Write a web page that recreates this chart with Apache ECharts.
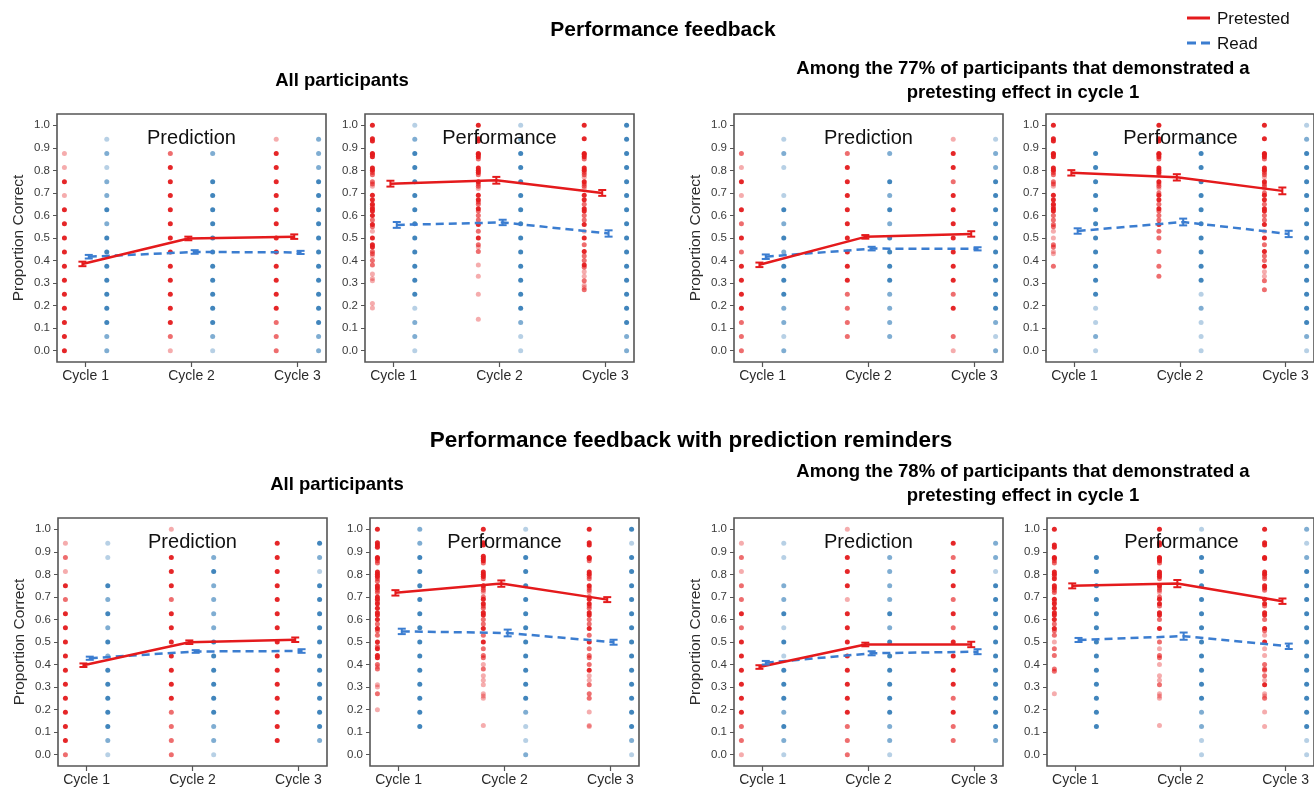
<!DOCTYPE html>
<html>
<head>
<meta charset="utf-8">
<script src="https://cdn.jsdelivr.net/npm/echarts@6/dist/echarts.min.js"></script>
<style>
  html, body { margin: 0; padding: 0; background: #ffffff; }
  #chart { width: 1314px; height: 788px; }
</style>
</head>
<body>
<div id="chart"></div>
<script>
// ---- Axis labels ----
const cycles = ['Cycle 1', 'Cycle 2', 'Cycle 3'];
const yTicks = [0, 0.1, 0.2, 0.3, 0.4, 0.5, 0.6, 0.7, 0.8, 0.9, 1.0];
const groupNames = ['Pretested', 'Read'];

// ---- Individual scores: per cycle, [proportion, overlap level 1..3] ----
// Performance feedback, all participants, predictions
const fbAllPredPre = [
  [[.875,1],[.813,1],[.75,3],[.688,1],[.625,3],[.563,3],[.5,3],[.438,3],[.375,3],[.313,3],[.25,3],[.188,3],[.125,3],[.063,3],[0,3]],
  [[.875,2],[.813,3],[.75,3],[.688,3],[.625,3],[.563,3],[.5,3],[.438,3],[.375,3],[.313,3],[.25,3],[.188,3],[.125,3],[.063,2],[0,1]],
  [[.938,1],[.875,3],[.813,3],[.75,3],[.688,3],[.625,3],[.563,3],[.5,3],[.438,3],[.375,3],[.313,3],[.25,3],[.188,3],[.125,2],[.063,2],[0,2]]
];
const fbAllPredRead = [
  [[.938,1],[.875,2],[.813,1],[.75,2],[.688,2],[.625,3],[.563,2],[.5,3],[.438,3],[.375,3],[.313,3],[.25,3],[.188,3],[.125,3],[.063,2],[0,2]],
  [[.875,2],[.75,3],[.688,3],[.625,3],[.563,3],[.5,3],[.438,3],[.375,3],[.313,3],[.25,3],[.188,3],[.125,3],[.063,2],[0,1]],
  [[.938,2],[.875,2],[.813,2],[.75,3],[.688,3],[.625,3],[.563,3],[.5,3],[.438,3],[.375,3],[.313,3],[.25,3],[.188,3],[.125,3],[.063,2],[0,2]]
];
// Performance feedback, all participants, test performance
const fbAllPerfPre = [
  [[1,3],[.94,3],[.93,3],[.875,3],[.87,3],[.86,3],[.81,3],[.8,3],[.79,2],[.78,2],[.75,2],[.74,2],[.73,1],[.69,3],[.67,3],[.65,3],[.64,2],[.63,3],[.62,3],[.6,3],[.58,2],[.56,3],[.55,2],[.53,1],[.5,3],[.47,3],[.46,3],[.44,2],[.43,2],[.42,1],[.4,2],[.38,2],[.34,1],[.32,1],[.31,1],[.21,1],[.19,1]],
  [[1,3],[.94,3],[.93,3],[.875,3],[.87,3],[.86,3],[.85,2],[.81,3],[.8,3],[.79,3],[.78,2],[.75,3],[.74,2],[.73,2],[.72,1],[.69,3],[.67,3],[.66,2],[.65,2],[.63,3],[.62,2],[.6,2],[.58,2],[.56,3],[.53,2],[.5,3],[.47,2],[.46,1],[.44,2],[.38,1],[.33,1],[.25,1],[.14,1]],
  [[1,3],[.94,3],[.875,3],[.87,3],[.86,3],[.85,2],[.81,3],[.8,3],[.79,2],[.78,2],[.77,1],[.75,3],[.74,2],[.73,2],[.72,1],[.69,3],[.67,3],[.65,2],[.63,3],[.62,3],[.6,2],[.58,2],[.56,3],[.53,1],[.5,3],[.47,2],[.44,3],[.42,2],[.4,2],[.38,3],[.37,2],[.35,1],[.33,1],[.31,2],[.29,1],[.28,1],[.27,2]]
];
const fbAllPerfRead = [
  [[1,1],[.938,2],[.875,3],[.813,3],[.75,3],[.688,3],[.625,3],[.563,3],[.5,3],[.438,3],[.375,3],[.313,3],[.25,3],[.188,1],[.125,2],[.063,2],[0,1]],
  [[1,1],[.938,2],[.875,3],[.813,3],[.75,3],[.688,3],[.625,3],[.563,3],[.5,3],[.438,3],[.375,3],[.313,3],[.25,3],[.188,3],[.125,2],[.063,1],[0,1]],
  [[1,3],[.938,3],[.875,3],[.813,3],[.75,3],[.688,3],[.625,3],[.563,3],[.5,3],[.438,3],[.375,3],[.313,3],[.25,3],[.188,3],[.125,3],[.063,2],[0,2]]
];
// Performance feedback, 77% subgroup, predictions
const fbSubPredPre = [
  [[.875,2],[.813,1],[.75,3],[.688,1],[.625,3],[.563,2],[.5,3],[.438,2],[.375,3],[.313,3],[.25,3],[.188,3],[.125,2],[.063,2],[0,2]],
  [[.875,2],[.813,3],[.75,3],[.688,3],[.625,3],[.563,3],[.5,3],[.438,3],[.375,3],[.313,3],[.25,2],[.188,2],[.125,2],[.063,2]],
  [[.938,1],[.875,3],[.813,3],[.75,2],[.688,3],[.625,3],[.563,3],[.5,3],[.438,3],[.375,3],[.313,3],[.25,2],[.188,3],[.063,2],[0,1]]
];
const fbSubPredRead = [
  [[.938,1],[.875,2],[.813,1],[.688,1],[.625,3],[.563,2],[.5,3],[.438,2],[.375,3],[.313,3],[.25,3],[.188,2],[.125,2],[.063,1],[0,2]],
  [[.875,2],[.75,3],[.688,2],[.625,3],[.563,2],[.5,3],[.438,3],[.375,3],[.313,3],[.25,2],[.188,2],[.125,2],[.063,2]],
  [[.938,1],[.875,2],[.813,2],[.75,3],[.688,3],[.625,3],[.563,3],[.5,3],[.438,3],[.375,3],[.313,3],[.25,3],[.188,3],[.125,2],[.063,1],[0,2]]
];
// Performance feedback, 77% subgroup, test performance
const fbSubPerfPre = [
  [[1,3],[.94,3],[.93,3],[.875,3],[.87,3],[.86,3],[.81,3],[.8,3],[.79,2],[.78,2],[.75,2],[.74,2],[.73,1],[.69,3],[.67,3],[.65,3],[.64,2],[.63,3],[.62,3],[.6,2],[.58,2],[.56,2],[.55,2],[.53,1],[.5,1],[.47,2],[.46,2],[.44,1],[.43,1],[.375,2]],
  [[1,3],[.94,3],[.93,3],[.875,3],[.87,3],[.86,3],[.85,2],[.81,3],[.8,3],[.79,3],[.78,2],[.75,3],[.74,2],[.73,2],[.72,1],[.7,2],[.69,3],[.67,3],[.65,2],[.63,3],[.62,2],[.6,2],[.58,2],[.56,3],[.53,2],[.5,2],[.44,2],[.375,2],[.33,2]],
  [[1,3],[.94,3],[.875,3],[.87,3],[.86,3],[.85,2],[.81,3],[.8,3],[.79,2],[.78,2],[.77,1],[.75,3],[.74,2],[.73,2],[.72,1],[.7,2],[.69,3],[.67,3],[.65,2],[.63,3],[.62,3],[.6,2],[.58,2],[.56,3],[.53,1],[.5,3],[.47,2],[.44,3],[.42,2],[.4,2],[.375,3],[.35,1],[.33,1],[.31,2],[.27,2]]
];
const fbSubPerfRead = [
  [[.875,3],[.813,3],[.75,3],[.688,3],[.625,3],[.563,3],[.5,3],[.438,3],[.375,3],[.313,3],[.25,3],[.188,1],[.125,1],[.063,2],[0,1]],
  [[.938,2],[.875,3],[.813,3],[.75,3],[.688,3],[.625,3],[.563,3],[.5,3],[.438,3],[.375,3],[.313,3],[.25,1],[.188,2],[.125,1],[.063,1],[0,1]],
  [[1,1],[.938,2],[.875,3],[.813,3],[.75,3],[.688,3],[.625,3],[.563,3],[.5,3],[.438,3],[.375,3],[.313,3],[.25,3],[.188,3],[.125,3],[.063,2],[0,1]]
];
// Feedback with reminders, all participants, predictions
const remAllPredPre = [
  [[.938,1],[.875,2],[.813,1],[.75,3],[.688,2],[.625,3],[.563,3],[.5,3],[.438,3],[.375,3],[.313,3],[.25,3],[.188,3],[.125,3],[.063,3],[0,2]],
  [[1,1],[.875,3],[.813,3],[.75,3],[.688,2],[.625,3],[.563,3],[.5,3],[.438,3],[.375,3],[.313,3],[.25,3],[.188,2],[.125,2],[.063,2],[0,2]],
  [[.938,3],[.875,3],[.813,3],[.75,3],[.688,3],[.625,3],[.563,3],[.5,3],[.438,3],[.375,3],[.313,3],[.25,3],[.188,3],[.125,3],[.063,3]]
];
const remAllPredRead = [
  [[.938,1],[.875,1],[.75,3],[.688,2],[.625,3],[.563,2],[.5,3],[.438,2],[.375,3],[.313,3],[.25,3],[.188,3],[.125,3],[.063,2],[0,1]],
  [[.875,2],[.813,3],[.75,2],[.688,2],[.625,2],[.563,2],[.5,3],[.438,3],[.375,3],[.313,3],[.25,3],[.188,3],[.125,2],[.063,2],[0,1]],
  [[.938,3],[.875,2],[.813,1],[.75,3],[.688,3],[.625,3],[.563,3],[.5,3],[.438,3],[.375,3],[.313,3],[.25,3],[.188,3],[.125,3],[.063,2]]
];
// Feedback with reminders, all participants, test performance
const remAllPerfPre = [
  [[1,3],[.94,3],[.93,3],[.92,3],[.875,3],[.87,3],[.86,2],[.85,2],[.81,3],[.8,3],[.79,3],[.78,2],[.77,2],[.75,3],[.74,3],[.73,2],[.72,2],[.7,3],[.69,3],[.68,2],[.67,3],[.65,3],[.63,3],[.62,3],[.6,3],[.58,2],[.56,3],[.55,2],[.53,2],[.5,3],[.48,2],[.47,3],[.44,3],[.43,3],[.4,2],[.39,1],[.38,2],[.31,1],[.3,1],[.27,2],[.2,1]],
  [[1,3],[.94,3],[.93,3],[.88,3],[.87,3],[.86,3],[.85,2],[.81,3],[.8,3],[.79,3],[.78,2],[.75,3],[.74,2],[.73,2],[.72,1],[.7,2],[.69,3],[.67,3],[.66,2],[.65,2],[.63,3],[.62,3],[.6,2],[.58,2],[.56,3],[.53,2],[.5,3],[.47,2],[.44,2],[.43,2],[.4,1],[.38,2],[.35,1],[.33,1],[.31,1],[.27,1],[.26,1],[.25,1],[.13,1]],
  [[1,3],[.94,3],[.93,3],[.875,3],[.87,3],[.86,2],[.81,3],[.8,3],[.79,2],[.78,2],[.75,3],[.74,2],[.73,2],[.72,1],[.7,2],[.69,3],[.67,3],[.66,2],[.65,2],[.63,3],[.62,3],[.6,2],[.58,2],[.56,3],[.53,2],[.5,3],[.47,2],[.44,2],[.43,2],[.4,2],[.375,3],[.35,1],[.33,1],[.31,2],[.27,2],[.25,2],[.19,1],[.13,1],[.125,1]]
];
const remAllPerfRead = [
  [[1,2],[.938,2],[.875,3],[.813,3],[.75,3],[.688,3],[.625,3],[.563,3],[.5,3],[.438,3],[.375,3],[.313,3],[.25,3],[.188,3],[.125,3]],
  [[1,1],[.875,3],[.813,3],[.75,3],[.688,3],[.625,3],[.563,3],[.5,3],[.438,3],[.375,3],[.313,3],[.25,3],[.188,2],[.125,1],[.063,1],[0,2]],
  [[1,3],[.938,1],[.875,3],[.813,3],[.75,3],[.688,3],[.625,3],[.563,3],[.5,3],[.438,3],[.375,3],[.313,3],[.25,3],[.188,3],[.125,3],[.063,2],[0,1]]
];
// Feedback with reminders, 78% subgroup, predictions
const remSubPredPre = [
  [[.938,1],[.875,2],[.813,1],[.75,2],[.688,2],[.625,3],[.563,2],[.5,3],[.438,3],[.375,3],[.313,3],[.25,3],[.188,3],[.125,2],[.063,2],[0,1]],
  [[1,1],[.875,3],[.813,3],[.75,3],[.688,1],[.625,3],[.563,3],[.5,3],[.438,3],[.375,3],[.313,3],[.25,3],[.188,3],[.125,2],[.063,2],[0,2]],
  [[.938,3],[.875,2],[.813,3],[.75,3],[.688,2],[.625,3],[.563,2],[.5,3],[.438,3],[.375,3],[.313,3],[.25,2],[.188,3],[.125,2],[.063,2]]
];
const remSubPredRead = [
  [[.938,1],[.875,1],[.75,2],[.688,2],[.625,3],[.563,1],[.5,3],[.438,1],[.375,3],[.313,3],[.25,3],[.188,2],[.125,3],[.063,2],[0,1]],
  [[.875,2],[.813,2],[.75,2],[.688,2],[.625,3],[.563,2],[.5,3],[.438,3],[.375,3],[.313,3],[.25,3],[.188,3],[.125,2],[.063,2],[0,1]],
  [[.938,2],[.875,2],[.813,1],[.75,3],[.688,3],[.625,3],[.563,3],[.5,3],[.438,3],[.375,3],[.313,3],[.25,3],[.188,3],[.125,3],[.063,2]]
];
// Feedback with reminders, 78% subgroup, test performance
const remSubPerfPre = [
  [[1,3],[.93,3],[.92,3],[.875,3],[.87,3],[.86,2],[.85,2],[.81,3],[.8,3],[.79,2],[.78,3],[.75,3],[.74,3],[.73,2],[.72,2],[.69,3],[.68,2],[.67,3],[.65,3],[.63,3],[.62,3],[.6,3],[.58,2],[.56,3],[.55,2],[.53,2],[.5,1],[.47,2],[.44,2],[.38,2],[.37,2],[.27,1]],
  [[1,3],[.94,3],[.93,3],[.875,3],[.87,3],[.86,3],[.85,2],[.81,3],[.8,3],[.79,3],[.78,2],[.75,3],[.74,2],[.73,2],[.72,1],[.7,2],[.69,3],[.67,3],[.66,2],[.63,3],[.62,3],[.6,2],[.56,3],[.5,2],[.47,1],[.44,2],[.43,2],[.4,1],[.35,1],[.33,1],[.31,2],[.27,1],[.26,1],[.25,1],[.13,1]],
  [[1,3],[.94,3],[.93,3],[.875,3],[.87,3],[.81,3],[.8,3],[.79,2],[.78,2],[.75,3],[.74,3],[.73,2],[.69,3],[.67,3],[.66,2],[.63,3],[.62,3],[.6,2],[.56,3],[.55,2],[.53,1],[.5,3],[.47,1],[.44,1],[.4,2],[.38,2],[.375,2],[.35,2],[.33,1],[.31,3],[.27,1],[.26,1],[.25,2],[.19,1],[.125,1]]
];
const remSubPerfRead = [
  [[.875,3],[.813,3],[.75,3],[.688,3],[.625,3],[.563,3],[.5,3],[.438,3],[.375,3],[.313,3],[.25,3],[.188,3],[.125,3]],
  [[1,1],[.875,3],[.813,3],[.75,3],[.688,3],[.625,3],[.563,3],[.5,3],[.438,3],[.375,3],[.313,3],[.25,3],[.188,2],[.125,2],[.063,1],[0,1]],
  [[1,2],[.938,1],[.875,2],[.813,3],[.75,3],[.688,3],[.625,3],[.563,3],[.5,3],[.438,3],[.375,3],[.313,3],[.25,3],[.188,3],[.125,3],[.063,1],[0,1]]
];

// ---- Condition means and standard errors (Cycle 1..3) ----
const fbAllPredMeanPre  = [0.385, 0.498, 0.506], fbAllPredSePre  = [0.010, 0.008, 0.010];
const fbAllPredMeanRead = [0.417, 0.438, 0.436], fbAllPredSeRead = [0.008, 0.008, 0.007];
const fbAllPerfMeanPre  = [0.741, 0.756, 0.700], fbAllPerfSePre  = [0.013, 0.015, 0.013];
const fbAllPerfMeanRead = [0.558, 0.569, 0.520], fbAllPerfSeRead = [0.013, 0.012, 0.014];
const fbSubPredMeanPre  = [0.381, 0.505, 0.518], fbSubPredSePre  = [0.010, 0.008, 0.012];
const fbSubPredMeanRead = [0.417, 0.453, 0.452], fbSubPredSeRead = [0.010, 0.008, 0.007];
const fbSubPerfMeanPre  = [0.789, 0.769, 0.709], fbSubPerfSePre  = [0.012, 0.014, 0.015];
const fbSubPerfMeanRead = [0.531, 0.571, 0.518], fbSubPerfSeRead = [0.012, 0.015, 0.014];
const remAllPredMeanPre  = [0.397, 0.499, 0.510], remAllPredSePre  = [0.008, 0.008, 0.010];
const remAllPredMeanRead = [0.428, 0.458, 0.460], remAllPredSeRead = [0.007, 0.006, 0.008];
const remAllPerfMeanPre  = [0.718, 0.759, 0.688], remAllPerfSePre  = [0.012, 0.014, 0.011];
const remAllPerfMeanRead = [0.547, 0.540, 0.499], remAllPerfSeRead = [0.012, 0.015, 0.011];
const remSubPredMeanPre  = [0.389, 0.489, 0.489], remSubPredSePre  = [0.008, 0.008, 0.012];
const remSubPredMeanRead = [0.408, 0.450, 0.457], remSubPredSeRead = [0.008, 0.009, 0.011];
const remSubPerfMeanPre  = [0.749, 0.759, 0.681], remSubPerfSePre  = [0.011, 0.016, 0.012];
const remSubPerfMeanRead = [0.509, 0.526, 0.481], remSubPerfSeRead = [0.009, 0.016, 0.012];

// ---- Styling ----
const FONT = '"Liberation Sans", Arial, Helvetica, sans-serif';
const RED = '#e41a1c';
const BLUE_DOT = '#377eb8';
const BLUE_LINE = '#3b7dd0';
const shade = [0, 0.36, 0.64, 0.95];   // dot opacity by overlap level
const DOT_OFFSET = 0.2;                 // strip dodge from the cycle position
const MEAN_OFFSET = 0.03;               // mean / error-bar dodge

// Panel layout: plot boxes and the data each one shows
const panels = [
  { box: { left: 57,   top: 114, width: 269, height: 248 }, title: 'Prediction',  yName: true,
    pre: fbAllPredPre, read: fbAllPredRead, mPre: fbAllPredMeanPre, sPre: fbAllPredSePre, mRead: fbAllPredMeanRead, sRead: fbAllPredSeRead },
  { box: { left: 365,  top: 114, width: 269, height: 248 }, title: 'Performance', yName: false,
    pre: fbAllPerfPre, read: fbAllPerfRead, mPre: fbAllPerfMeanPre, sPre: fbAllPerfSePre, mRead: fbAllPerfMeanRead, sRead: fbAllPerfSeRead },
  { box: { left: 734,  top: 114, width: 269, height: 248 }, title: 'Prediction',  yName: true,
    pre: fbSubPredPre, read: fbSubPredRead, mPre: fbSubPredMeanPre, sPre: fbSubPredSePre, mRead: fbSubPredMeanRead, sRead: fbSubPredSeRead },
  { box: { left: 1046, top: 114, width: 269, height: 248 }, title: 'Performance', yName: false,
    pre: fbSubPerfPre, read: fbSubPerfRead, mPre: fbSubPerfMeanPre, sPre: fbSubPerfSePre, mRead: fbSubPerfMeanRead, sRead: fbSubPerfSeRead },
  { box: { left: 58,   top: 518, width: 269, height: 248 }, title: 'Prediction',  yName: true,
    pre: remAllPredPre, read: remAllPredRead, mPre: remAllPredMeanPre, sPre: remAllPredSePre, mRead: remAllPredMeanRead, sRead: remAllPredSeRead },
  { box: { left: 370,  top: 518, width: 269, height: 248 }, title: 'Performance', yName: false,
    pre: remAllPerfPre, read: remAllPerfRead, mPre: remAllPerfMeanPre, sPre: remAllPerfSePre, mRead: remAllPerfMeanRead, sRead: remAllPerfSeRead },
  { box: { left: 734,  top: 518, width: 269, height: 248 }, title: 'Prediction',  yName: true,
    pre: remSubPredPre, read: remSubPredRead, mPre: remSubPredMeanPre, sPre: remSubPredSePre, mRead: remSubPredMeanRead, sRead: remSubPredSeRead },
  { box: { left: 1047, top: 518, width: 269, height: 248 }, title: 'Performance', yName: false,
    pre: remSubPerfPre, read: remSubPerfRead, mPre: remSubPerfMeanPre, sPre: remSubPerfSePre, mRead: remSubPerfMeanRead, sRead: remSubPerfSeRead }
];

function stripData(strips, offset) {
  const out = [];
  strips.forEach((strip, ci) => {
    strip.forEach(([v, lvl]) => {
      out.push({ value: [ci + offset, v], itemStyle: { opacity: shade[lvl] } });
    });
  });
  return out;
}

function errorBars(color) {
  return function (params, api) {
    const x = api.value(0);
    const lo = api.coord([x, api.value(1)]);
    const hi = api.coord([x, api.value(2)]);
    const w = 4;
    const style = { stroke: color, lineWidth: 2 };
    return {
      type: 'group',
      children: [
        { type: 'line', shape: { x1: lo[0], y1: lo[1], x2: hi[0], y2: hi[1] }, style },
        { type: 'line', shape: { x1: lo[0] - w, y1: lo[1], x2: lo[0] + w, y2: lo[1] }, style },
        { type: 'line', shape: { x1: hi[0] - w, y1: hi[1], x2: hi[0] + w, y2: hi[1] }, style }
      ]
    };
  };
}

const grids = [], xAxes = [], yAxes = [], series = [], graphics = [];

panels.forEach((p, i) => {
  grids.push(Object.assign({ show: true, borderColor: '#555555', borderWidth: 1.6, backgroundColor: 'transparent' }, p.box));

  xAxes.push({
    type: 'value', gridIndex: i, min: -0.27, max: 2.27, position: 'bottom',
    axisLine: { show: false, onZero: false }, splitLine: { show: false },
    axisTick: { show: true, customValues: [0, 1, 2], length: 5, lineStyle: { color: '#555555', width: 1.2 } },
    axisLabel: { customValues: [0, 1, 2], formatter: v => cycles[Math.round(v)], fontFamily: FONT, fontSize: 14, color: '#2b2b2b', margin: 7 }
  });

  yAxes.push({
    type: 'value', gridIndex: i, min: -0.05, max: 1.05, position: 'left',
    name: p.yName ? 'Proportion Correct' : '',
    nameLocation: 'middle', nameGap: 30,
    nameTextStyle: { fontFamily: FONT, fontSize: 15.5, color: '#2b2b2b' },
    axisLine: { show: false, onZero: false }, splitLine: { show: false },
    axisTick: { show: true, customValues: yTicks, length: 4, lineStyle: { color: '#555555', width: 1 } },
    axisLabel: { customValues: yTicks, formatter: v => v.toFixed(1), fontFamily: FONT, fontSize: 11.5, color: '#3a3a3a', margin: 7 }
  });

  series.push({
    type: 'scatter', name: 'Pretested scores', xAxisIndex: i, yAxisIndex: i, symbolSize: 5, silent: true, z: 2,
    itemStyle: { color: RED }, data: stripData(p.pre, -DOT_OFFSET)
  });
  series.push({
    type: 'scatter', name: 'Read scores', xAxisIndex: i, yAxisIndex: i, symbolSize: 5, silent: true, z: 2,
    itemStyle: { color: BLUE_DOT }, data: stripData(p.read, DOT_OFFSET)
  });
  series.push({
    type: 'line', name: groupNames[0], xAxisIndex: i, yAxisIndex: i, symbol: 'none', z: 5, silent: true,
    lineStyle: { color: RED, width: 2.5 }, itemStyle: { color: RED },
    data: p.mPre.map((m, k) => [k - MEAN_OFFSET, m])
  });
  series.push({
    type: 'line', name: groupNames[1], xAxisIndex: i, yAxisIndex: i, symbol: 'none', z: 4, silent: true,
    lineStyle: { color: BLUE_LINE, width: 2.5, type: [8, 5] }, itemStyle: { color: BLUE_LINE },
    data: p.mRead.map((m, k) => [k + MEAN_OFFSET, m])
  });
  series.push({
    type: 'custom', name: 'Pretested SE', coordinateSystem: 'cartesian2d', xAxisIndex: i, yAxisIndex: i, z: 6, silent: true,
    renderItem: errorBars(RED), encode: { x: 0, y: [1, 2] },
    data: p.mPre.map((m, k) => [k - MEAN_OFFSET, m - p.sPre[k], m + p.sPre[k]])
  });
  series.push({
    type: 'custom', name: 'Read SE', coordinateSystem: 'cartesian2d', xAxisIndex: i, yAxisIndex: i, z: 6, silent: true,
    renderItem: errorBars(BLUE_LINE), encode: { x: 0, y: [1, 2] },
    data: p.mRead.map((m, k) => [k + MEAN_OFFSET, m - p.sRead[k], m + p.sRead[k]])
  });

  graphics.push({
    type: 'text', x: p.box.left + p.box.width / 2, y: p.box.top + 24, z: 10,
    style: { text: p.title, fontFamily: FONT, fontSize: 20, fill: '#111111', align: 'center', verticalAlign: 'middle' }
  });
});

// Figure headings
const headings = [
  { text: 'Performance feedback', x: 663, y: 30, size: 21 },
  { text: 'All participants', x: 342, y: 81, size: 18.5 },
  { text: 'Among the 77% of participants that demonstrated a\npretesting effect in cycle 1', x: 1023, y: 81, size: 18.5 },
  { text: 'Performance feedback with prediction reminders', x: 691, y: 441, size: 22.5 },
  { text: 'All participants', x: 337, y: 485, size: 18.5 },
  { text: 'Among the 78% of participants that demonstrated a\npretesting effect in cycle 1', x: 1023, y: 484, size: 18.5 }
];
headings.forEach(h => {
  graphics.push({
    type: 'text', x: h.x, y: h.y, z: 10,
    style: { text: h.text, fontFamily: FONT, fontSize: h.size, fontWeight: 'bold', fill: '#000000',
             align: 'center', verticalAlign: 'middle', lineHeight: 24 }
  });
});

// Key for the two study conditions
graphics.push(
  { type: 'line', shape: { x1: 1187, y1: 18, x2: 1210, y2: 18 }, style: { stroke: RED, lineWidth: 3 } },
  { type: 'text', x: 1217, y: 19, style: { text: groupNames[0], fontFamily: FONT, fontSize: 17, fill: '#111111', align: 'left', verticalAlign: 'middle' } },
  { type: 'line', shape: { x1: 1187, y1: 43, x2: 1210, y2: 43 }, style: { stroke: BLUE_LINE, lineWidth: 3, lineDash: [9, 5] } },
  { type: 'text', x: 1217, y: 44, style: { text: groupNames[1], fontFamily: FONT, fontSize: 17, fill: '#111111', align: 'left', verticalAlign: 'middle' } }
);

const chart = echarts.init(document.getElementById('chart'), null, { renderer: 'canvas' });
chart.setOption({
  animation: false,
  backgroundColor: '#ffffff',
  grid: grids,
  xAxis: xAxes,
  yAxis: yAxes,
  series: series,
  graphic: graphics
});
</script>
</body>
</html>
